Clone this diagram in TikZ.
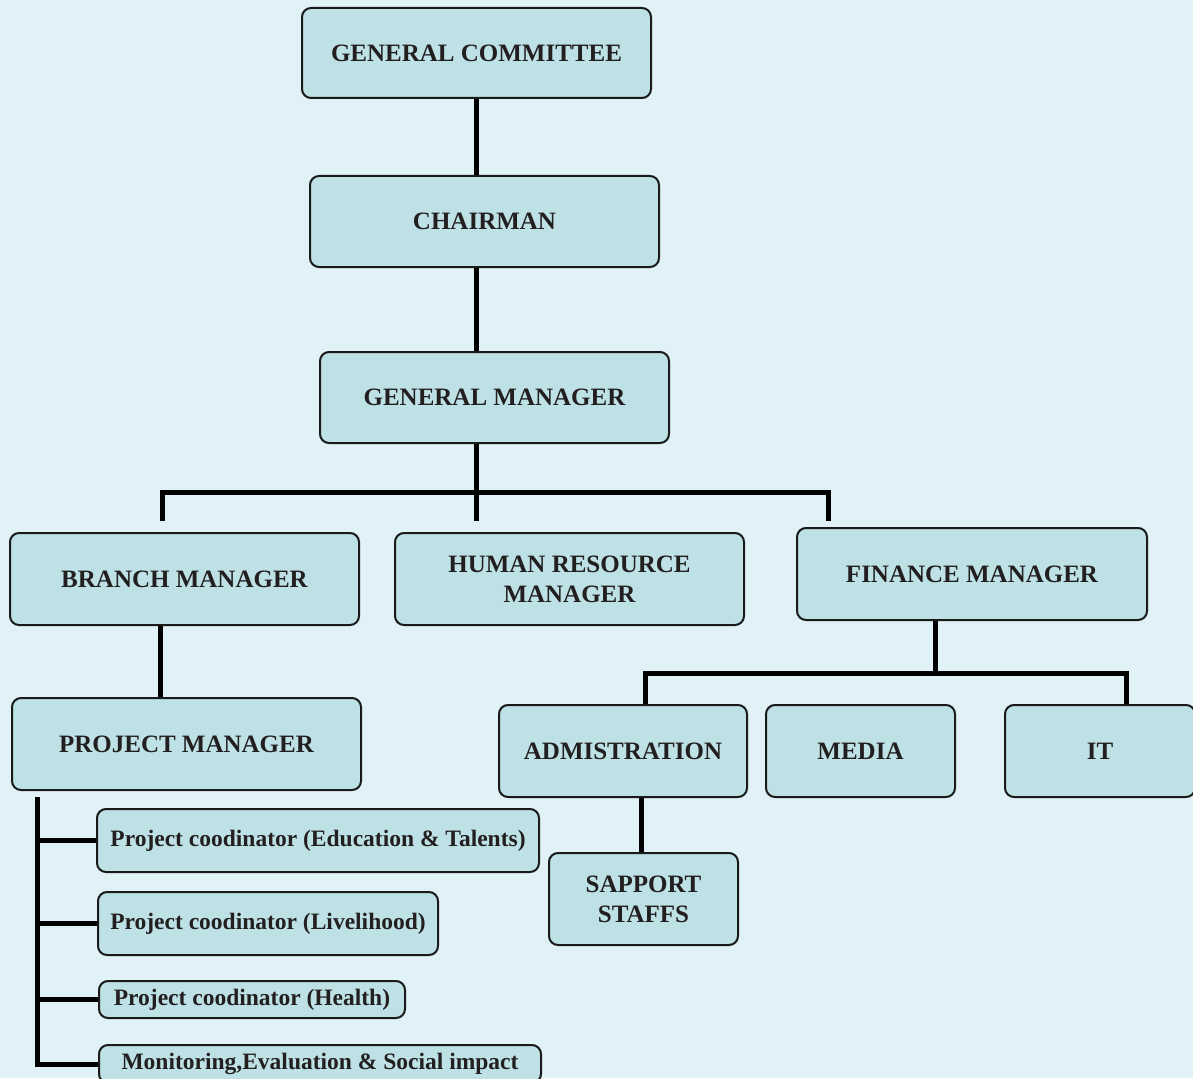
\documentclass[tikz,border=0pt]{standalone}
\usepackage{fontspec}
\setmainfont{Liberation Serif}
\definecolor{paleblue}{RGB}{224,241,248}
\definecolor{boxfill}{RGB}{189,225,229}
\definecolor{boxline}{RGB}{26,26,26}
\definecolor{inkdark}{RGB}{35,31,32}
\newcommand{\hd}{\fontsize{25}{30}\selectfont\bfseries}
\newcommand{\sm}{\fontsize{23.5}{28}\selectfont\bfseries}

\begin{document}
\begin{tikzpicture}[x = 1pt, y = -1pt,
  box/.style = {draw = boxline, fill = boxfill, line width = 2pt, rounded corners = 9pt,
    text = inkdark, align = center, inner sep = 0pt},
  head/.style = {box, font = \hd},
  sub/.style = {box, font = \sm},
  link/.style = {line width = 5pt, black}]
\fill[paleblue] (0,0) rectangle (1193,1078);
\useasboundingbox (0,0) rectangle (1193,1078);
\clip (0,0) rectangle (1193,1078);

\node[head, minimum width = 349, minimum height = 90] (v1) at (476.5,53) {GENERAL COMMITTEE};
\node[head, minimum width = 349, minimum height = 91] (v2) at (484.5,221.5) {CHAIRMAN};
\node[head, minimum width = 349, minimum height = 91] (v3) at (494.5,397.5) {GENERAL MANAGER};
\node[head, minimum width = 349, minimum height = 92] (v4) at (184.5,579) {BRANCH MANAGER};
\node[head, minimum width = 349, minimum height = 92] (v5) at (569.5,579) {HUMAN RESOURCE\\MANAGER};
\node[head, minimum width = 350, minimum height = 92] (v6) at (972,574) {FINANCE MANAGER};
\node[head, minimum width = 349, minimum height = 92] (v7) at (186.5,744) {PROJECT MANAGER};
\node[head, minimum width = 248, minimum height = 92] (v8) at (623,751) {ADMISTRATION};
\node[head, minimum width = 189, minimum height = 92] (v9) at (860.5,751) {MEDIA};
\node[head, minimum width = 190, minimum height = 92] (v10) at (1100,751) {IT};
\node[head, minimum width = 189, minimum height = 92] (v11) at (643.5,899) {SAPPORT\\STAFFS};

\node[sub, minimum width = 442, minimum height = 63] (v12) at (318,840.5) {Project coodinator (Education \& Talents)};
\node[sub, minimum width = 340, minimum height = 63] (v13) at (268,923.5) {Project coodinator (Livelihood)};
\node[sub, minimum width = 306, minimum height = 37] (v14) at (252,999.5) {Project coodinator (Health)};
\node[sub, minimum width = 442, minimum height = 38] (v15) at (320,1064) {Monitoring,Evaluation \& Social impact};

\coordinate (j1) at (476,492);
\coordinate (b1) at (162,521);
\coordinate (b2) at (476,521);
\coordinate (b3) at (828,521);
\coordinate (j2) at (935,673);
\coordinate (k1) at (160,0);
\coordinate (k2) at (641,0);
\coordinate (k3) at (645,0);
\coordinate (k4) at (1126,0);
\coordinate (p1) at (37,797);

\draw [link] (v1.south) -- (v1.south |- v2.north);
\draw [link] (v1.south |- v2.south) -- (v1.south |- v3.north);
\draw [link] (v3.south -| j1) -- (j1);
\draw [link] (b1) -- (b1 |- j1) -- (b3 |- j1) -- (b3);
\draw [link] (j1) -- (b2);
\draw [link] (v4.south -| k1) -- (v7.north -| k1);
\draw [link] (v6.south -| j2) -- (j2);
\draw [link] (v8.north -| k3) -- (k3 |- j2) -- (k4 |- j2) -- (v10.north -| k4);
\draw [link] (v8.south -| k2) -- (v11.north -| k2);
\draw [link] (p1) -- (p1 |- v15.west) -- (v15.west);
\draw [link] (p1 |- v12.west) -- (v12.west);
\draw [link] (p1 |- v13.west) -- (v13.west);
\draw [link] (p1 |- v14.west) -- (v14.west);
\end{tikzpicture}
\end{document}
